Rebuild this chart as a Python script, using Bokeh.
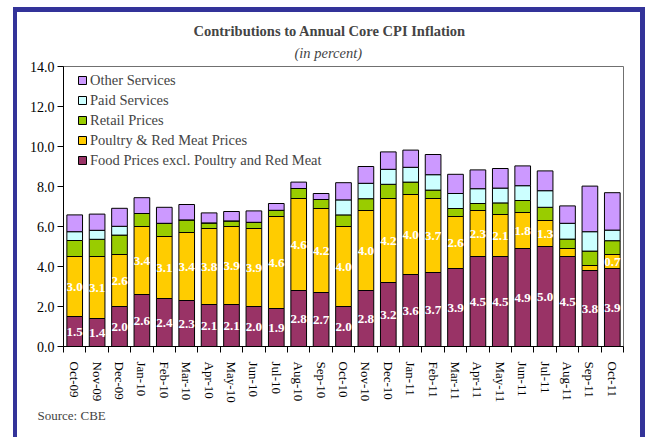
from bokeh.plotting import figure
from bokeh.layouts import column
from bokeh.models import (Range1d, FixedTicker, Legend, LegendItem, Title,
                          ColumnDataSource, PrintfTickFormatter)
from bokeh.core.properties import value
from bokeh.embed import file_html
from bokeh.resources import INLINE

months = ["Oct-09", "Nov-09", "Dec-09", "Jan-10", "Feb-10", "Mar-10", "Apr-10",
          "May-10", "Jun-10", "Jul-10", "Aug-10", "Sep-10", "Oct-10", "Nov-10",
          "Dec-10", "Jan-11", "Feb-11", "Mar-11", "Apr-11", "May-11", "Jun-11",
          "Jul-11", "Aug-11", "Sep-11", "Oct-11"]
food = [1.5, 1.4, 2.0, 2.6, 2.4, 2.3, 2.1, 2.1, 2.0, 1.9, 2.8, 2.7, 2.0, 2.8,
        3.2, 3.6, 3.7, 3.9, 4.5, 4.5, 4.9, 5.0, 4.5, 3.8, 3.9]
poultry = [3.0, 3.1, 2.6, 3.4, 3.1, 3.4, 3.8, 3.9, 3.9, 4.6, 4.6, 4.2, 4.0, 4.0,
           4.2, 4.0, 3.7, 2.6, 2.3, 2.1, 1.8, 1.3, 0.4, 0.25, 0.7]
retail = [0.8, 0.86, 0.97, 0.65, 0.66, 0.63, 0.28, 0.28, 0.31, 0.31, 0.5, 0.45,
          0.58, 0.59, 0.71, 0.62, 0.42, 0.4, 0.35, 0.58, 0.6, 0.66, 0.47, 0.72, 0.69]
paid = [0.44, 0.45, 0.44, 0.0, 0.0, 0.0, 0.0, 0.0, 0.0, 0.0, 0.0, 0.0,
        0.75, 0.77, 0.75, 0.74, 0.77, 0.75, 0.74, 0.74, 0.74, 0.83, 0.79, 0.97, 0.53]
other = [0.84, 0.81, 0.9, 0.79, 0.8, 0.77, 0.5, 0.47, 0.57, 0.34, 0.32, 0.3,
         0.86, 0.84, 0.87, 0.86, 1.01, 0.96, 0.94, 0.98, 0.99, 0.99, 0.87, 2.28, 1.87]

series_names = ["Food Prices excl. Poultry and Red Meat", "Poultry & Red Meat Prices",
                "Retail Prices", "Paid Services", "Other Services"]
colors = ["#993366", "#FFCC00", "#99CC00", "#CCFFFF", "#CC99FF"]
y_ticks = [0, 2, 4, 6, 8, 10, 12, 14]

FONT = "Liberation Serif"
BLUE = "#333399"
n = len(months)
xs = list(range(n))

src = ColumnDataSource(dict(x=xs, food=food, poultry=poultry, retail=retail,
                            paid=paid, other=other))
keys = ["food", "poultry", "retail", "paid", "other"]

p = figure(width=623, height=425, output_backend="svg", toolbar_location=None,
           x_range=Range1d(-0.5, n - 0.5), y_range=Range1d(0, 14),
           min_border_left=46, min_border_right=17, min_border_top=54,
           min_border_bottom=91, background_fill_color="white",
           border_fill_color="white")
p.grid.visible = False
p.outline_line_color = "#707070"
p.outline_line_width = 1

renderers = p.vbar_stack(keys, x="x", width=0.7, source=src, fill_color=colors,
                         line_color="black", line_width=1)

# value labels
fx, fy, ft = [], [], []
for i in range(n):
    fx.append(xs[i]); fy.append(food[i] / 2); ft.append(f"{food[i]:.1f}")
    if poultry[i] >= 0.5:
        fx.append(xs[i]); fy.append(food[i] + poultry[i] / 2); ft.append(f"{poultry[i]:.1f}")
lsrc = ColumnDataSource(dict(x=fx, y=fy, t=ft))
p.text(x="x", y="y", text="t", source=lsrc, text_color="white",
       text_font=value(FONT), text_font_style="bold", text_font_size="13px",
       text_align="center", text_baseline="middle")

# axes
xa = p.xaxis[0]
xa.ticker = FixedTicker(ticks=xs, minor_ticks=[i - 0.5 for i in range(n + 1)])
xa.major_label_overrides = {i: m for i, m in zip(xs, months)}
xa.major_label_orientation = "vertical"
xa.major_tick_line_color = None
xa.major_tick_out = 0
xa.major_tick_in = 0
xa.minor_tick_out = 6
xa.minor_tick_in = 0
xa.minor_tick_line_color = "black"
xa.major_label_standoff = 9
xa.major_label_text_font = FONT
xa.major_label_text_font_size = "13px"
xa.major_label_text_color = "black"
xa.axis_line_color = "black"

ya = p.yaxis[0]
ya.ticker = FixedTicker(ticks=y_ticks, minor_ticks=[])
ya.formatter = PrintfTickFormatter(format="%.1f")
ya.major_tick_out = 6
ya.major_tick_in = 0
ya.minor_tick_line_color = None
ya.major_label_standoff = 3
ya.major_label_text_font = FONT
ya.major_label_text_font_size = "14px"
ya.major_label_text_color = "black"
ya.axis_line_color = "black"

# legend
items = [LegendItem(label=series_names[i], renderers=[renderers[i]])
         for i in reversed(range(len(keys)))]
legend = Legend(items=items, location=(14, 176), padding=0, margin=0, spacing=0,
                label_text_font=FONT, label_text_font_size="14.5px",
                glyph_width=10, glyph_height=10, label_height=20,
                label_standoff=3, background_fill_alpha=0,
                border_line_color=None)
p.add_layout(legend)

# titles: p.title is outermost; the subtitle sits between it and the frame
p.title.text = "Contributions to Annual Core CPI Inflation"
p.title.text_font = FONT
p.title.text_font_style = "bold"
p.title.text_font_size = "14.5px"
p.title.align = "left"
p.title.offset = 130
p.title.standoff = -5
p.add_layout(Title(text="(in percent)", text_font=FONT, text_font_style="italic",
                   text_font_size="14.5px", align="left", offset=231,
                   standoff=12), "above")
p.add_layout(Title(text="Source: CBE", text_font=FONT, text_font_style="normal",
                   text_font_size="13px", align="left", offset=-26, standoff=0),
             "below")

page = column(p, styles={"margin-left": "13px", "margin-top": "7px",
                         "border-left": f"4px solid {BLUE}",
                         "border-right": f"5px solid {BLUE}",
                         "border-top": f"5px solid {BLUE}"})

open("out.html", "w").write(file_html(page, INLINE))
